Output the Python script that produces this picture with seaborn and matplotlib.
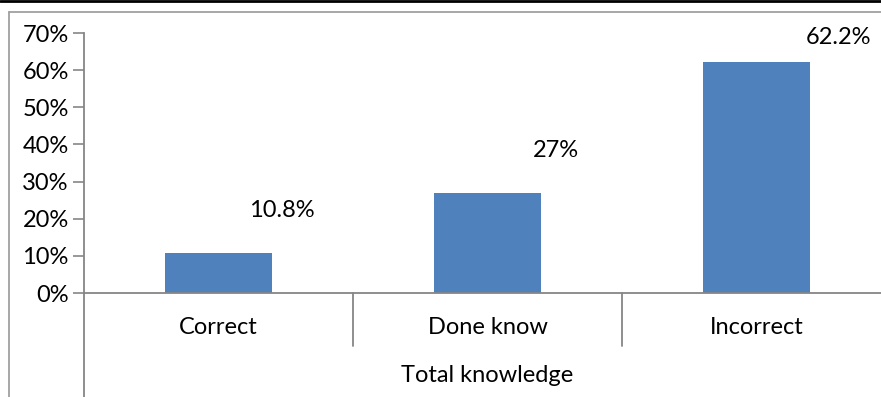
import matplotlib
matplotlib.use("Agg")
import matplotlib.pyplot as plt
import matplotlib.transforms as mtransforms
from matplotlib.lines import Line2D
import seaborn as sns
import pandas as pd

categories = ["Correct", "Done know", "Incorrect"]
values = [10.8, 27.0, 62.2]
value_labels = ["10.8%", "27%", "62.2%"]
y_ticks = [0, 10, 20, 30, 40, 50, 60, 70]
x_title = "Total knowledge"

sns.set_theme(style="white")
plt.rcParams["font.family"] = ["Lato", "DejaVu Sans"]

W, H = 881, 397
FS = 17
fig = plt.figure(figsize=(W / 100, H / 100), dpi=100)

# plot area in pixel terms (right edge runs slightly past the canvas)
left, right, top, bottom = 84, 891, 33, 293
ax = fig.add_axes([left / W, (H - bottom) / H, (right - left) / W, (bottom - top) / H])

df = pd.DataFrame({"category": categories, "value": values})
sns.barplot(data=df, x="category", y="value", color="#4F81BD", saturation=1,
            width=0.4, ax=ax, edgecolor="none")

grey = "#868686"
ax.set_xlim(-0.5, 2.5)
ax.set_ylim(0, 70)
ax.set_yticks(y_ticks)
ax.set_yticklabels([f"{t}%" for t in y_ticks], fontsize=FS, color="black")
ax.tick_params(axis="y", direction="out", length=8, width=1.2, color=grey, pad=3, left=True)
ax.tick_params(axis="x", length=0, pad=17, labelsize=FS, labelcolor="black")
ax.set_xlabel(x_title, fontsize=FS, color="black", labelpad=20)
ax.set_ylabel("")
for side in ("top", "right"):
    ax.spines[side].set_visible(False)
for side in ("left", "bottom"):
    ax.spines[side].set_color(grey)
    ax.spines[side].set_linewidth(1.3)

# value labels set above and to the right of each bar, kept inside the chart frame
label_dx = [63, 68, 82]
px_per_unit = (bottom - top) / 70
for i, (v, lab) in enumerate(zip(values, value_labels)):
    bar_top_px = bottom - v * px_per_unit
    label_px = max(bar_top_px - 42, 38)
    ax.annotate(lab, xy=(i, v), xytext=(label_dx[i], bar_top_px - label_px),
                textcoords="offset pixels", ha="center", va="center",
                fontsize=FS, color="black")

# y-axis line continues down to the bottom edge; category dividers below the axis
trans = mtransforms.blended_transform_factory(ax.transData, ax.transAxes)
depth = (bottom - H) / (bottom - top)
ax.add_line(Line2D([-0.5, -0.5], [0, depth], transform=trans, color=grey,
                   lw=1.3, clip_on=False))
div = -53 / (bottom - top)
for xd in (0.5, 1.5):
    ax.add_line(Line2D([xd, xd], [0, div], transform=trans, color=grey,
                       lw=1.3, clip_on=False))

# chart frame and top rule
fig.add_artist(Line2D([9 / W, 9 / W], [0, (H - 12) / H], color="#A0A0A0", lw=1.3))
fig.add_artist(Line2D([9 / W, 1], [(H - 12) / H, (H - 12) / H], color="#A0A0A0", lw=1.3))
fig.add_artist(Line2D([0, 1], [(H - 1) / H, (H - 1) / H], color="black", lw=2))

fig.savefig("out.png", dpi=100)
